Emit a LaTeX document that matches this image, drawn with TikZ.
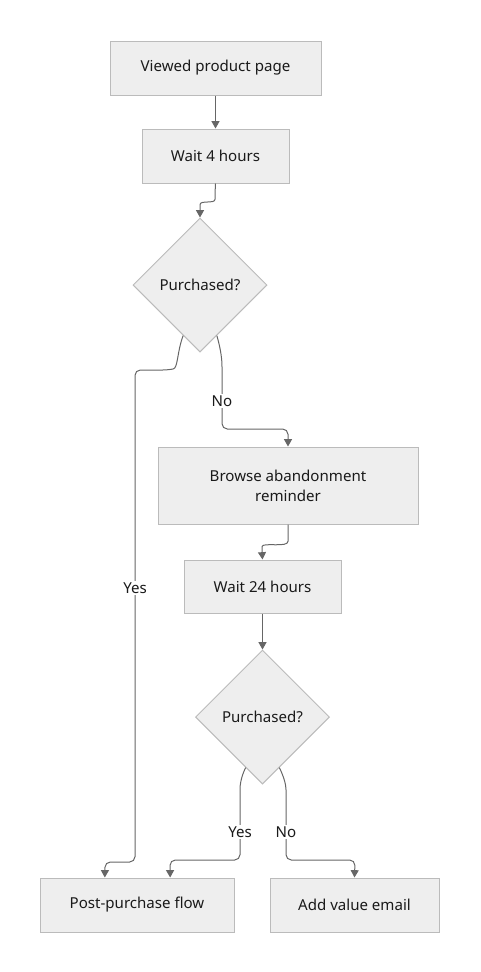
\documentclass[tikz,border=0pt]{standalone}
\usepackage{fontspec}
\setmainfont{Noto Sans}
\usetikzlibrary{shapes.geometric,arrows.meta,calc}
\definecolor{boxfill}{HTML}{EEEEEE}
\definecolor{boxline}{HTML}{BBBBBB}
\definecolor{edgecol}{HTML}{666666}
\definecolor{txt}{HTML}{1A1A1A}
\begin{document}
\begin{tikzpicture}[x=0.75pt,y=-0.75pt,
  every node/.style={text=txt,font=\fontsize{11.3pt}{15pt}\selectfont},
  stepbox/.style={draw=boxline,fill=boxfill,line width=0.75pt,rectangle,inner sep=0pt,align=center},
  decide/.style={draw=boxline,fill=boxfill,line width=0.75pt,diamond,aspect=1,inner sep=0pt,minimum size=100.5pt},
  conn/.style={draw=edgecol,line width=0.75pt,rounded corners=4pt,-{Triangle[length=5.5pt,width=6pt]}},
  lbl/.style={fill=white,inner sep=1.5pt}]
\useasboundingbox (0,0) rectangle (480,972);
\node[stepbox,minimum width=158.25pt,minimum height=40.5pt] (view) at (215.5,68) {Viewed product page};
\node[stepbox,minimum width=110.25pt,minimum height=40.5pt] (w4) at (215.5,156) {Wait 4 hours};
\node[decide] (d1) at (200,285) {Purchased?};
\node[stepbox,minimum width=195pt,minimum height=57.75pt] (browse) at (288,485.5) {Browse abandonment\\reminder};
\node[stepbox,minimum width=117.75pt,minimum height=39.75pt] (w24) at (262.5,586.5) {Wait 24 hours};
\node[decide] (d2) at (262.5,717) {Purchased?};
\node[stepbox,minimum width=145.5pt,minimum height=40.5pt] (post) at (137,905) {Post-purchase flow};
\node[stepbox,minimum width=126.75pt,minimum height=40.5pt] (add) at (354.5,905) {Add value email};

\coordinate (s1) at ($(d1.south)!0.25!(d1.west)$);
\coordinate (s2) at ($(d1.south)!0.25!(d1.east)$);
\coordinate (s3) at ($(d2.south)!0.25!(d2.west)$);
\coordinate (s4) at ($(d2.south)!0.25!(d2.east)$);
\coordinate (p1) at ($(post.north west)!0.335!(post.north east)$);
\coordinate (p2) at ($(post.north west)!0.67!(post.north east)$);

\draw[conn] (view.south) -- (w4.north);
\draw[conn] (w4.south) -- (215,194) .. controls (215,204) and (200,200) .. (200,210) -- (d1.north);
\draw[conn] (s1) .. controls (177,352) and (178,368) .. (168,370) -- (135,370) -- (135,862) -- (105,862) -- (p1);
\draw[conn] (s2) .. controls (221,350) and (222,360) .. (222,372) -- (222,429) -- (288,429) -- (browse.north);
\draw[conn] (browse.south) -- (288,536) .. controls (288,548) and (262,542) .. (262,552) -- (w24.north);
\draw[conn] (w24.south) -- (d2.north);
\draw[conn] (s3) .. controls (241,777) and (240,785) .. (240,795) -- (240,860) -- (170,860) -- (p2);
\draw[conn] (s4) .. controls (284,777) and (286,785) .. (286,795) -- (286,860) -- (355,860) -- (add.north);

\node[lbl] (l1) at (135,588) {Yes};
\node[lbl] (l2) at (222,401) {No};
\node[lbl] (l3) at (240,832) {Yes};
\node[lbl] (l4) at (286,832) {No};
\end{tikzpicture}
\end{document}
